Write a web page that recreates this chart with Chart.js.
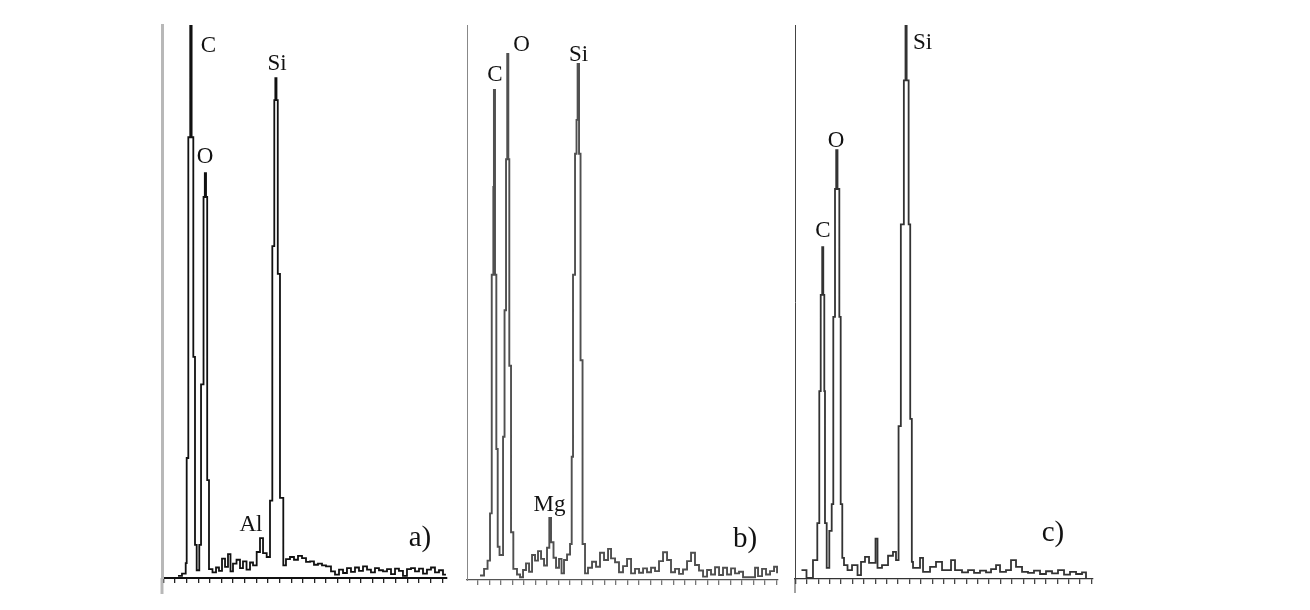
<!DOCTYPE html>
<html>
<head>
<meta charset="utf-8">
<script src="https://cdn.jsdelivr.net/npm/chart.js@4.4.1/dist/chart.umd.min.js"></script>
<style>
  html, body { margin: 0; padding: 0; background: #fff; }
  body { width: 1310px; height: 610px; position: relative; overflow: hidden; }
  canvas { position: absolute; top: 0; }
</style>
</head>
<body>
<canvas id="chartA" width="310" height="610" style="left:150px"></canvas>
<canvas id="chartB" width="330" height="610" style="left:455px"></canvas>
<canvas id="chartC" width="320" height="610" style="left:780px"></canvas>
<script>
// spectrum a) - energy (keV) and counts (% of full scale)
const energyA = [0.052, 0.120, 0.184, 0.201, 0.229, 0.262, 0.286, 0.315, 0.344, 0.373,
  0.418, 0.448, 0.491, 0.513, 0.534, 0.554, 0.585,
  0.645, 0.706, 0.757, 0.809, 0.861, 0.912, 0.955, 0.998, 1.059, 1.119,
  1.170, 1.231, 1.291, 1.343, 1.406, 1.463, 1.515, 1.578,
  1.635, 1.675, 1.709, 1.727, 1.747, 1.769, 1.807, 1.864,
  1.910, 1.979, 2.048, 2.117, 2.186, 2.255, 2.324, 2.392, 2.461, 2.530, 2.599,
  2.685, 2.754, 2.823, 2.892, 2.960, 3.029, 3.098, 3.167, 3.236, 3.305,
  3.373, 3.442, 3.511, 3.580, 3.649, 3.718, 3.787, 3.855, 3.924, 3.993,
  4.062, 4.131, 4.200, 4.269, 4.337, 4.406, 4.475, 4.544, 4.613, 4.664];
const countsA = [0.4, 0.8, 2.7, 21.7, 79.7, 100, 79.7, 40, 6, 1.4,
  6, 35, 68.9, 73.2, 68.9, 17.7, 1.6,
  1.0, 1.9, 1.3, 3.5, 2.0, 4.3, 1.2, 2.6, 3.3, 1.8,
  3.0, 1.5, 2.8, 2.3, 4.7, 7.2, 4.5, 3.8,
  14, 60, 86.4, 90.4, 86.4, 55, 14.5, 2.3,
  3.4, 3.8, 3.3, 4.0, 3.6, 2.9, 3.0, 2.4, 2.6, 2.3, 2.1,
  1.2, 0.6, 1.5, 0.9, 1.8, 1.1, 1.9, 1.3, 2.1, 1.5,
  1.0, 1.8, 1.4, 1.2, 1.6, 0.7, 1.7, 1.3, 0.4, 1.6,
  1.8, 1.2, 1.7, 0.8, 1.5, 1.9, 1.0, 1.4, 0.6, 0.6];

// spectrum b)
const energyB = [0.035, 0.105, 0.166, 0.209, 0.239, 0.267, 0.277, 0.296, 0.319, 0.343,
  0.375, 0.436, 0.462, 0.488, 0.509, 0.528, 0.545, 0.575, 0.615,
  0.679, 0.732, 0.784, 0.836, 0.889, 0.941, 0.993, 1.045, 1.098, 1.150,
  1.202, 1.242, 1.272, 1.315, 1.359, 1.411, 1.455, 1.498, 1.551, 1.603,
  1.632, 1.655, 1.690, 1.716, 1.735, 1.760, 1.786, 1.821, 1.864,
  1.916, 1.986, 2.056, 2.125, 2.195, 2.265, 2.317, 2.387, 2.456, 2.526,
  2.596, 2.666, 2.735, 2.805, 2.875, 2.944, 3.014, 3.084, 3.153, 3.223,
  3.293, 3.362, 3.432, 3.502, 3.571, 3.641, 3.711, 3.780, 3.850, 3.920,
  3.990, 4.059, 4.129, 4.199, 4.268, 4.338, 4.408, 4.477, 4.547, 4.617,
  4.826, 4.878, 4.948, 5.017, 5.087, 5.157, 5.209];
const countsB = [0.8, 2.0, 3.5, 12, 55, 70.8, 88.3, 55, 23.6, 6,
  4.5, 25.8, 48.6, 75.8, 94.8, 75.8, 38.6, 8.6, 2.0,
  1.0, 0.5, 1.8, 3.0, 1.5, 4.5, 3.5, 5.2, 3.8, 2.6,
  5.8, 11.2, 6.8, 4.0, 2.2, 3.8, 1.2, 3.6, 4.6, 6.5,
  22.2, 55, 76.8, 82.9, 93, 76.8, 39.6, 6.5, 1.2,
  2.2, 3.3, 2.4, 4.9, 3.6, 5.6, 3.9, 3.2, 1.4, 2.5,
  3.8, 1.2, 2.0, 1.3, 2.1, 1.4, 2.2, 1.6, 3.4, 5.0,
  3.6, 1.4, 2.0, 1.1, 1.9, 3.4, 4.9, 2.7, 1.7, 0.6,
  1.8, 1.0, 2.3, 0.9, 2.2, 1.0, 2.1, 1.2, 1.5, 0.5,
  2.2, 0.7, 2.0, 1.0, 1.6, 2.4, 1.2];

// spectrum c)
const energyC = [-0.097, -0.009, 0.105, 0.181, 0.216, 0.241, 0.267, 0.286, 0.304, 0.316,
  0.346, 0.392, 0.434, 0.462, 0.492, 0.513, 0.536, 0.568, 0.592, 0.620,
  0.650, 0.712, 0.791, 0.888, 0.949, 1.019, 1.090, 1.204, 1.239, 1.318,
  1.424, 1.511, 1.564, 1.609, 1.649, 1.702, 1.731, 1.751, 1.786, 1.814,
  1.842, 1.863, 1.986, 2.039, 2.162, 2.267, 2.373, 2.531, 2.601, 2.724,
  2.830, 2.935, 3.040, 3.146, 3.234, 3.322, 3.392, 3.497, 3.585, 3.673,
  3.779, 3.884, 3.989, 4.095, 4.200, 4.306, 4.411, 4.517, 4.622, 4.728,
  4.833, 4.903];
const countsC = [1.6, 0.2, 3.4, 10.1, 33.9, 51.3, 59.9, 51.3, 33.9, 10.1,
  2.0, 8.7, 13.5, 47.3, 70.4, 77.4, 70.4, 47.3, 13.5, 3.8,
  2.5, 1.6, 2.5, 0.7, 3.1, 4.0, 2.9, 7.3, 2.0, 2.5,
  4.2, 4.9, 3.4, 27.6, 64, 90, 100, 90, 64, 28.9,
  3.1, 2.0, 3.8, 1.3, 2.2, 3.1, 1.6, 3.4, 1.6, 1.2,
  1.6, 1.1, 1.5, 1.2, 1.8, 2.5, 1.3, 1.6, 3.4, 2.2,
  1.3, 1.1, 1.5, 0.9, 1.4, 1.0, 1.6, 0.8, 1.3, 0.9,
  1.2, 0.2];

// element labels: text, energy (keV), height (% of full scale)
const elementsA = ['C', 'O', 'Si', 'Al'];
const elemEnergyA = [0.575, 0.516, 1.756, 1.308];
const elemHeightA = [96.2, 76.1, 93.0, 9.6];
const elementsB = ['C', 'O', 'Si', 'Mg'];
const elemEnergyB = [0.296, 0.758, 1.751, 1.246];
const elemHeightB = [91.0, 96.4, 94.6, 13.5];
const elementsC = ['C', 'O', 'Si'];
const elemEnergyC = [0.281, 0.510, 2.030];
const elemHeightC = [62.8, 79.1, 96.8];

// panel tags
const tags = ['a)', 'b)', 'c)'];
const tagEnergy = [4.217, 4.652, 4.323];
const tagHeight = [7.1, 7.4, 8.3];

const SERIF = '"Liberation Serif", "Times New Roman", serif';

// text on the spectrum, placed through the chart scales
const peakLabels = {
  id: 'peakLabels',
  afterDatasetsDraw(chart, args, opts) {
    const {ctx, scales: {x, y}} = chart;
    ctx.save();
    ctx.fillStyle = '#111';
    ctx.textAlign = 'center';
    ctx.textBaseline = 'middle';
    ctx.font = '23px ' + SERIF;
    opts.text.forEach((t, i) => {
      ctx.fillText(t, x.getPixelForValue(opts.energy[i]), y.getPixelForValue(opts.height[i]));
    });
    ctx.font = '29px ' + SERIF;
    ctx.fillText(opts.tag, x.getPixelForValue(opts.tagEnergy), y.getPixelForValue(opts.tagHeight));
    ctx.restore();
  }
};

// the vertical axis runs a little below the baseline
const axisStub = {
  id: 'axisStub',
  afterDraw(chart, args, opts) {
    if (!opts.length) return;
    const {ctx, chartArea} = chart;
    ctx.save();
    ctx.strokeStyle = opts.color;
    ctx.lineWidth = opts.width;
    ctx.beginPath();
    ctx.moveTo(chartArea.left, chartArea.bottom);
    ctx.lineTo(chartArea.left, chartArea.bottom + opts.length);
    ctx.stroke();
    ctx.restore();
  }
};

function makeSpectrum(id, energy, counts, lbl, cfg) {
  return new Chart(document.getElementById(id), {
    type: 'line',
    data: {
      datasets: [{
        data: energy.map((e, i) => ({x: e, y: counts[i]})),
        stepped: true,
        borderColor: cfg.line,
        borderWidth: cfg.lineWidth,
        pointRadius: 0,
        fill: false
      }]
    },
    options: {
      responsive: false,
      animation: false,
      devicePixelRatio: 1,
      layout: {padding: cfg.pad, autoPadding: false},
      plugins: {
        legend: {display: false},
        tooltip: {enabled: false},
        peakLabels: lbl,
        axisStub: cfg.stub
      },
      scales: {
        x: {
          type: 'linear',
          min: cfg.xMin,
          max: cfg.xMax,
          border: {color: cfg.xAxis, width: cfg.xAxisWidth},
          grid: {display: true, drawOnChartArea: false, drawTicks: true, tickLength: 5, color: cfg.tick, lineWidth: 1.3},
          ticks: {display: false, stepSize: 0.2, includeBounds: false}
        },
        y: {
          min: 0,
          max: 100,
          border: {color: cfg.yAxis, width: cfg.yAxisWidth},
          grid: {display: false, drawTicks: false},
          ticks: {display: false}
        }
      }
    },
    plugins: [peakLabels, axisStub]
  });
}

makeSpectrum('chartA', energyA, countsA,
  {text: elementsA, energy: elemEnergyA, height: elemHeightA, tag: tags[0], tagEnergy: tagEnergy[0], tagHeight: tagHeight[0]},
  {xMin: -0.224, xMax: 4.682, pad: {left: 12, right: 13, top: 25, bottom: 27},
   line: '#111', lineWidth: 1.8, xAxis: '#111', xAxisWidth: 2, yAxis: '#b8b8b8', yAxisWidth: 3, tick: '#222',
   stub: {length: 16, color: '#b8b8b8', width: 3}});

makeSpectrum('chartB', energyB, countsB,
  {text: elementsB, energy: elemEnergyB, height: elemHeightB, tag: tags[1], tagEnergy: tagEnergy[1], tagHeight: tagHeight[1]},
  {xMin: -0.192, xMax: 5.226, pad: {left: 12, right: 7, top: 25, bottom: 25},
   line: '#505050', lineWidth: 1.9, xAxis: '#555', xAxisWidth: 1.3, yAxis: '#888', yAxisWidth: 1, tick: '#777',
   stub: {length: 0}});

makeSpectrum('chartC', energyC, countsC,
  {text: elementsC, energy: elemEnergyC, height: elemHeightC, tag: tags[2], tagEnergy: tagEnergy[2], tagHeight: tagHeight[2]},
  {xMin: -0.211, xMax: 5.026, pad: {left: 15, right: 7, top: 25, bottom: 26},
   line: '#333', lineWidth: 1.8, xAxis: '#333', xAxisWidth: 1.3, yAxis: '#444', yAxisWidth: 1, tick: '#444',
   stub: {length: 14, color: '#444', width: 1}});
</script>
</body>
</html>
